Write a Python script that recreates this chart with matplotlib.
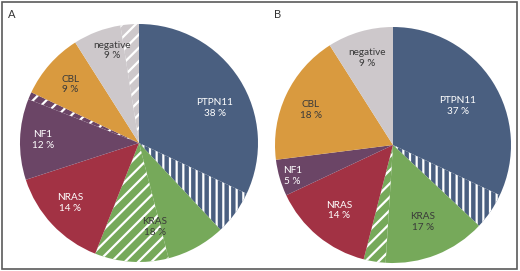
import matplotlib
matplotlib.use('Agg')
import numpy as np
import matplotlib.pyplot as plt
from matplotlib.patches import Rectangle

plt.rcParams['font.family'] = ['Lato', 'DejaVu Sans']
plt.rcParams['hatch.color'] = 'white'
plt.rcParams['hatch.linewidth'] = 2.0

# data (percent of cases)
genes = ['PTPN11', 'KRAS', 'NRAS', 'NF1', 'CBL', 'negative']
pct_a = [38, 18, 14, 12, 9, 9]
hatched_a = [6, 10, 0, 1, 0, 2.5]      # hatched share inside each slice
pct_b = [37, 17, 14, 5, 18, 9]
hatched_b = [5, 3, 0, 0, 0, 0]

colors = ['#4a5f80', '#76a95a', '#a23244', '#6b4566', '#d99a3f', '#cdc8cb']
hatches = ['||', '//', '//', '//', '//', '//']
text_col = ['white', '#3a3a3a', 'white', 'white', '#3a3a3a', '#3a3a3a']

# label placement (radius factor, angle shift in degrees)
lab_r_a = [0.70, 0.72, 0.77, 0.81, 0.76, 0.81]
lab_s_a = [3, 0, -2, 2, 1, 0]
lab_r_b = [0.64, 0.70, 0.72, 0.89, 0.76, 0.77]
lab_s_b = [7.5, 4.8, 0, 0.8, 2, 0.4]

W, H = 520, 271
fig = plt.figure(figsize=(W / 80, H / 80), dpi=80)
fig.patch.set_facecolor('white')


def draw_pie(cx, cy, r, pct, hatched, lab_r, lab_s):
    ax = fig.add_axes([(cx - r) / W, (H - cy - r) / H, 2 * r / W, 2 * r / H])
    sizes, cols, hats = [], [], []
    for i in range(len(pct)):
        plain = pct[i] - hatched[i]
        if plain > 0:
            sizes.append(plain)
            cols.append(colors[i])
            hats.append(None)
        if hatched[i] > 0:
            sizes.append(hatched[i])
            cols.append(colors[i])
            hats.append(hatches[i])
    wedges, _ = ax.pie(sizes, colors=cols, startangle=90, counterclock=False,
                       wedgeprops=dict(linewidth=0))
    for w, h in zip(wedges, hats):
        if h:
            w.set_hatch(h)
            w.set_edgecolor('white')
            w.set_linewidth(0)
    # labels at slice middles
    cum = np.cumsum([0] + pct)
    for i, g in enumerate(genes):
        mid = 90 - (cum[i] + pct[i] / 2) * 3.6 + lab_s[i]
        x = lab_r[i] * np.cos(np.radians(mid))
        y = lab_r[i] * np.sin(np.radians(mid))
        ax.text(x, y, f'{g}\n{pct[i]} %', ha='center', va='center',
                fontsize=9, color=text_col[i], linespacing=1.25)
    ax.set_xlim(-1, 1)
    ax.set_ylim(-1, 1)
    ax.set_aspect('equal')
    ax.axis('off')


draw_pie(139, 143, 119, pct_a, hatched_a, lab_r_a, lab_s_a)
draw_pie(393, 145, 118, pct_b, hatched_b, lab_r_b, lab_s_b)

fig.text(12 / W, 1 - 14 / H, 'A', ha='center', va='center', fontsize=10, color='#333333')
fig.text(278 / W, 1 - 15 / H, 'B', ha='center', va='center', fontsize=10, color='#333333')

# outer frame
fig.patches.append(Rectangle((1.5 / W, 2 / H), 515.5 / W, 267.5 / H, transform=fig.transFigure,
                             fill=False, edgecolor='#5a5a5a', linewidth=1.5))

fig.savefig('out.png', dpi=80, facecolor='white')
